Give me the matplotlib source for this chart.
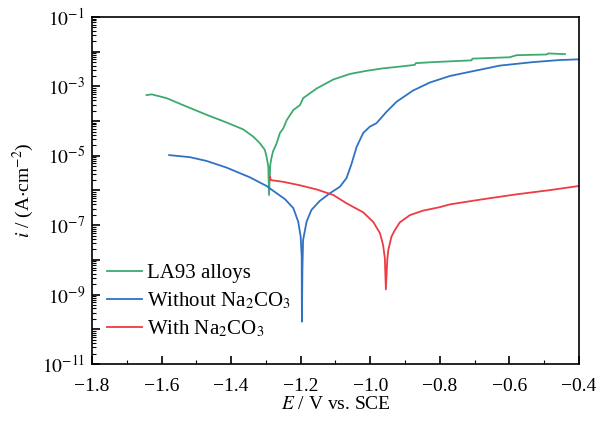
import numpy as np
import matplotlib
matplotlib.use('Agg')
import matplotlib.pyplot as plt
from matplotlib.ticker import LogLocator, MultipleLocator, FixedLocator, NullFormatter, FuncFormatter

# Tafel curves: potential E (V vs. SCE) and log10 of i (A/cm2)
la93_E = [-1.643, -1.628, -1.585, -1.538, -1.470, -1.413, -1.365, -1.336, -1.317, -1.303,
          -1.298, -1.293, -1.291, -1.2875, -1.284, -1.279, -1.269, -1.260, -1.250, -1.240,
          -1.221, -1.202, -1.193, -1.154, -1.106, -1.058, -1.010, -0.963, -0.915, -0.872,
          -0.869, -0.819, -0.709, -0.706, -0.599, -0.579, -0.493, -0.488, -0.440]
la93_logi = [-3.25, -3.23, -3.34, -3.54, -3.82, -4.04, -4.24, -4.45, -4.64, -4.83,
             -5.03, -5.31, -6.13, -5.27, -5.06, -4.86, -4.64, -4.35, -4.21, -3.97,
             -3.68, -3.54, -3.34, -3.06, -2.80, -2.64, -2.55, -2.48, -2.43, -2.38,
             -2.33, -2.30, -2.25, -2.20, -2.16, -2.10, -2.08, -2.05, -2.07]

without_E = [-1.578, -1.518, -1.470, -1.413, -1.346, -1.298, -1.269, -1.245, -1.221, -1.207,
             -1.200, -1.197, -1.1964, -1.195, -1.193, -1.183, -1.169, -1.145, -1.116, -1.087,
             -1.068, -1.054, -1.039, -1.020, -1.001, -0.982, -0.953, -0.924, -0.877, -0.829,
             -0.771, -0.704, -0.627, -0.532, -0.455, -0.400]
without_logi = [-4.98, -5.04, -5.15, -5.34, -5.62, -5.87, -6.08, -6.25, -6.51, -6.90,
                -7.33, -7.91, -9.78, -8.29, -7.43, -6.90, -6.56, -6.30, -6.08, -5.89,
                -5.64, -5.24, -4.74, -4.34, -4.16, -4.06, -3.73, -3.44, -3.12, -2.89,
                -2.70, -2.56, -2.40, -2.30, -2.24, -2.22]

with_E = [-1.288, -1.286, -1.250, -1.202, -1.154, -1.106, -1.068, -1.020, -0.991, -0.972,
          -0.963, -0.958, -0.955, -0.951, -0.948, -0.939, -0.929, -0.915, -0.886, -0.848,
          -0.800, -0.771, -0.675, -0.579, -0.484, -0.400]
with_logi = [-5.60, -5.70, -5.75, -5.85, -5.97, -6.13, -6.37, -6.63, -6.91, -7.23,
             -7.57, -7.95, -8.85, -8.00, -7.72, -7.33, -7.14, -6.92, -6.71, -6.58,
             -6.48, -6.40, -6.25, -6.11, -5.99, -5.87]

labels = ['LA93 alloys', 'Without Na$_2$CO$_3$', 'With Na$_2$CO$_3$']
colors = ['#3DAA6E', '#2F72C4', '#EE3B45']

plt.rcParams['font.family'] = ['Liberation Serif', 'DejaVu Serif']
plt.rcParams['mathtext.fontset'] = 'stix'
plt.rcParams['font.size'] = 13

fig = plt.figure(figsize=(6.1, 4.23), dpi=100)
ax = fig.add_axes([0.1508, 0.1395, 0.7982, 0.8203])

series = [(la93_E, la93_logi), (without_E, without_logi), (with_E, with_logi)]
for (e, li), lab, c in zip(series, labels, colors):
    ax.plot(e, 10 ** np.array(li), color=c, lw=1.3, label=lab)

ax.set_yscale('log')
ax.set_xlim(-1.8, -0.4)
ax.set_ylim(1e-11, 1e-1)
ax.xaxis.set_major_locator(MultipleLocator(0.2))
ax.xaxis.set_minor_locator(MultipleLocator(0.1))
ax.xaxis.set_major_formatter(FuncFormatter(lambda v, p: ('%.1f' % v).replace('-', '\u2212')))

decades = list(range(-11, 0))
ax.yaxis.set_major_locator(FixedLocator([10.0 ** k for k in decades]))
ax.yaxis.set_major_formatter(FuncFormatter(
    lambda v, p: '$10^{%d}$' % round(np.log10(v)) if round(np.log10(v)) % 2 else ''))
minor = [m * 10.0 ** k for k in range(-11, -1) for m in range(2, 10)]
ax.yaxis.set_minor_locator(FixedLocator(minor))
ax.yaxis.set_minor_formatter(NullFormatter())

ax.tick_params(which='both', direction='in', top=False, right=False)
ax.tick_params(which='major', length=6, width=1.2, labelsize=14)
ax.tick_params(axis='x', which='major', pad=10)
ax.tick_params(axis='y', which='major', pad=5)
ax.tick_params(which='minor', length=3, width=0.8)
for s in ax.spines.values():
    s.set_linewidth(1.2)

ax.set_xlabel('$E$ / V vs. SCE', fontsize=14, labelpad=1)
ax.set_ylabel('$i$ / (A$\\cdot$cm$^{-2}$)', fontsize=14, labelpad=4)

ax.legend(loc='lower left', bbox_to_anchor=(0.0, 0.03), frameon=False, fontsize=15,
          handlelength=1.7, handletextpad=0.25, labelspacing=0.35, borderaxespad=0.3)

fig.savefig('out.png', dpi=100)
